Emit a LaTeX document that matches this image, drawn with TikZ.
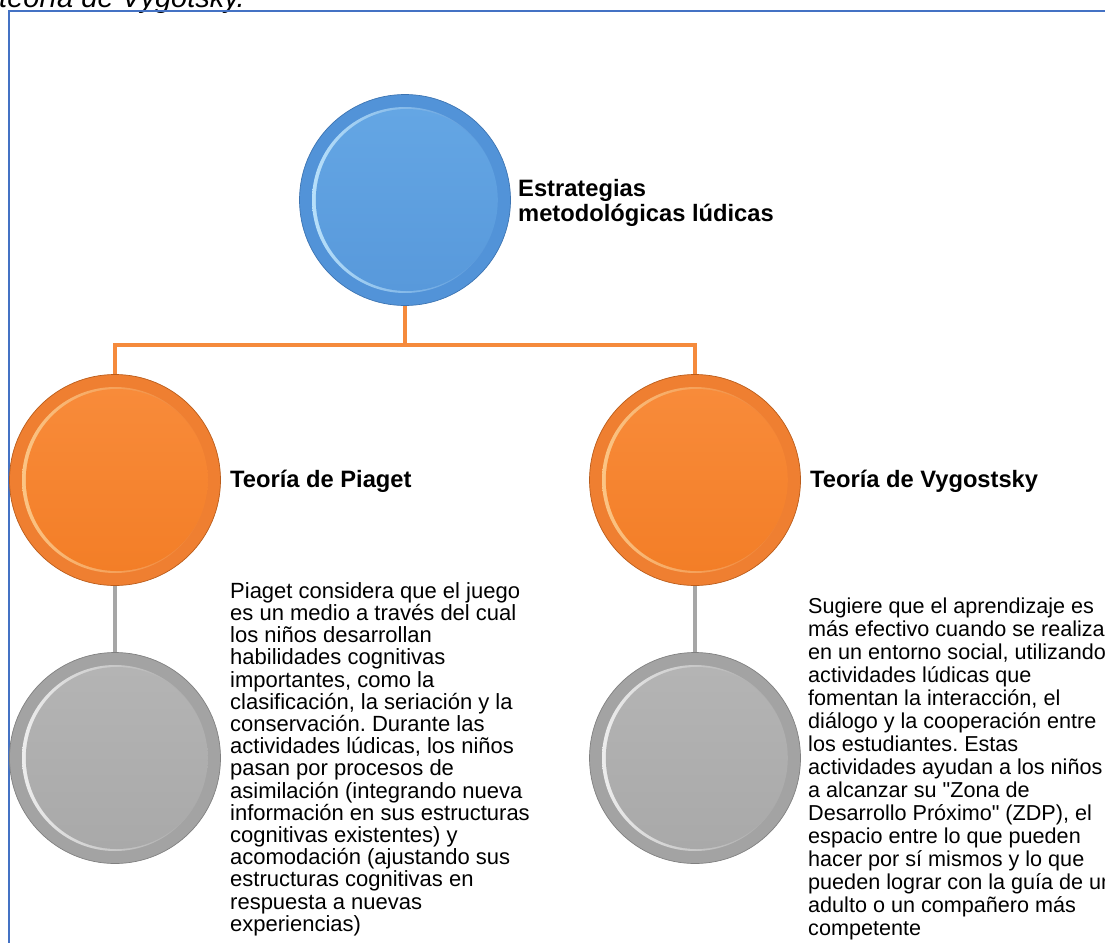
\documentclass[tikz,border=0pt]{standalone}
\usepackage{fontspec}
\setmainfont{Liberation Sans}[Ligatures=TeXOff]
\usetikzlibrary{calc}
\definecolor{blueO}{HTML}{5293D8}
\definecolor{blueD}{HTML}{3C74B2}
\definecolor{blueH}{HTML}{B8E0FA}
\definecolor{blueT}{HTML}{64A6E4}
\definecolor{blueB}{HTML}{5899DB}
\definecolor{orangeO}{HTML}{EF7F31}
\definecolor{orangeD}{HTML}{BA5C1A}
\definecolor{orangeH}{HTML}{FBC585}
\definecolor{orangeT}{HTML}{F88B3A}
\definecolor{orangeB}{HTML}{F37E27}
\definecolor{grayO}{HTML}{A3A3A3}
\definecolor{grayD}{HTML}{808080}
\definecolor{grayH}{HTML}{EDEDED}
\definecolor{grayT}{HTML}{B4B4B4}
\definecolor{grayB}{HTML}{A9A9A9}
\definecolor{frameblue}{HTML}{4472C4}
\definecolor{linkorange}{HTML}{F58A3C}
\definecolor{linkgray}{HTML}{A6A6A6}
\tikzset{
  bubble/.style={circle, minimum size=211pt, inner sep=0pt, draw=#1D, line width=0.7pt, fill=#1O,
    path picture={
      \coordinate (c) at (path picture bounding box.center);
      \shade[left color=#1H, right color=#1O] (c) circle (93pt);
      \shade[top color=#1T, bottom color=#1B] ([shift={(1.8pt,0pt)}]c) circle (91pt);
    }},
  orangelink/.style={draw=linkorange, line width=3.2pt},
  graylink/.style={draw=linkgray, line width=3.5pt},
  headtext/.style={font=\bfseries\fontsize{23.7}{25}\selectfont, inner sep=0pt, align=left},
  bodyL/.style={font=\fontsize{22}{22.2}\selectfont, inner sep=0pt, align=left},
  bodyR/.style={font=\fontsize{21.6}{23}\selectfont, inner sep=0pt, align=left},
  captext/.style={font=\itshape\fontsize{29}{30}\selectfont, inner sep=0pt},
}
\frenchspacing
\begin{document}
\begin{tikzpicture}[x=1pt,y=-1pt]
\useasboundingbox (0,0) rectangle (1105,942);
\clip (0,0) rectangle (1105,942);
% caption fragment and frame
\node[captext, anchor=base west] (cap) at (-1,8) {teoría de Vygotsky.};
\draw[frameblue, line width=1.3pt] (9,11) rectangle (1130,970);
% bubbles and connectors
\coordinate (bus) at (405,345);
\draw[orangelink] (405,300) -- (bus);
\node[bubble=blue] (top) at (405,200) {};
\node[bubble=orange] (piaget) at (115,480) {};
\node[bubble=orange] (vyg) at (695,480) {};
\node[bubble=gray] (piagetd) at (115,758) {};
\node[bubble=gray] (vygd) at (695,758) {};
\draw[orangelink] (top.south) -- (bus) -| (piaget.north);
\draw[orangelink] (bus) -| (vyg.north);
\draw[graylink] (piaget.south) -- (piagetd.north);
\draw[graylink] (vyg.south) -- (vygd.north);
% texts
\node[headtext, anchor=north west] (toptext) at (518,176.7) {\rule{0pt}{20pt}Estrategias\\metodológicas lúdicas};
\node[headtext, anchor=base west] (piagett) at (230,487) {Teoría de Piaget};
\node[headtext, anchor=base west] (vygt) at (810,487) {Teoría de Vygostsky};
\node[bodyL, anchor=north west] (piagetdesc) at (230,578) {\rule{0pt}{20pt}Piaget considera que el juego\\es un medio a través del cual\\los niños desarrollan\\habilidades cognitivas\\importantes, como la\\clasificación, la seriación y la\\conservación. Durante las\\actividades lúdicas, los niños\\pasan por procesos de\\asimilación (integrando nueva\\información en sus estructuras\\cognitivas existentes) y\\acomodación (ajustando sus\\estructuras cognitivas en\\respuesta a nuevas\\experiencias)};
\node[bodyR, anchor=north west] (vygdesc) at (808,593) {\rule{0pt}{20pt}Sugiere que el aprendizaje es\\más efectivo cuando se realiza\\en un entorno social, utilizando\\actividades lúdicas que\\fomentan la interacción, el\\diálogo y la cooperación entre\\los estudiantes. Estas\\actividades ayudan a los niños\\a alcanzar su "Zona de\\Desarrollo Próximo" (ZDP), el\\espacio entre lo que pueden\\hacer por sí mismos y lo que\\pueden lograr con la guía de un\\adulto o un compañero más\\competente};
\end{tikzpicture}
\end{document}
